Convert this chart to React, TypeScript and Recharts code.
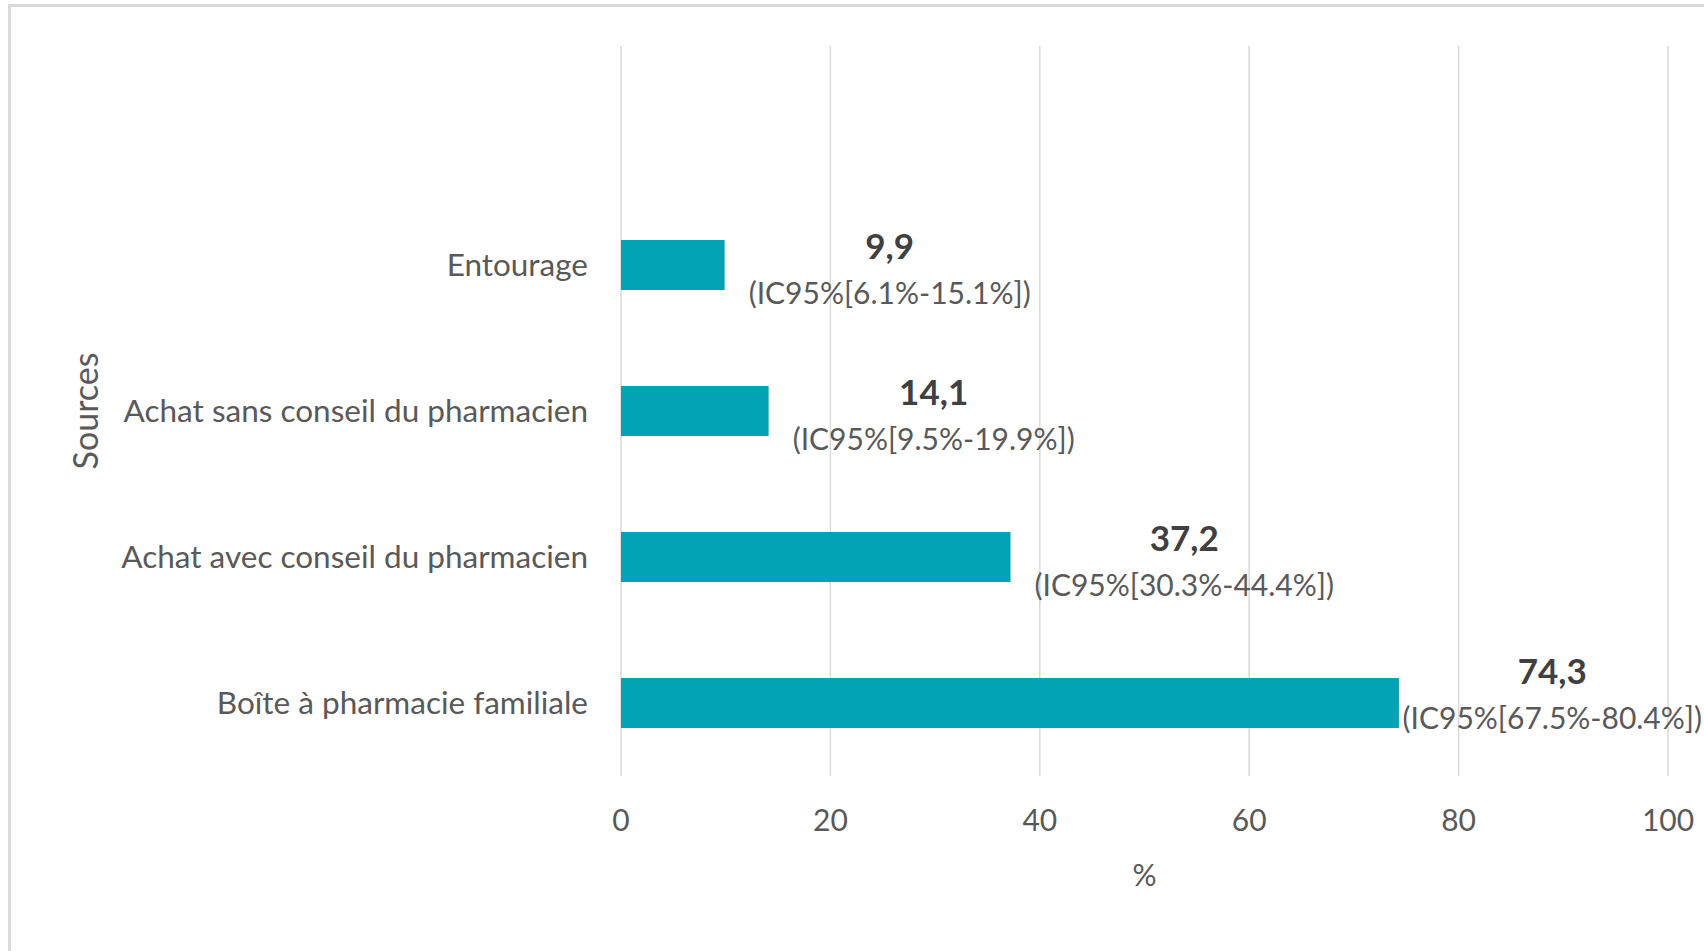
import React from 'react';
import { BarChart, Bar, XAxis, YAxis, CartesianGrid, LabelList } from 'recharts';

// Sources of self-medication products (%), with 95% confidence intervals
const sources = [
    'Entourage',
    'Achat sans conseil du pharmacien',
    'Achat avec conseil du pharmacien',
    'Boîte à pharmacie familiale',
];
const percentValues = [9.9, 14.1, 37.2, 74.3];
const ciLabels = [
    '(IC95%[6.1%-15.1%])',
    '(IC95%[9.5%-19.9%])',
    '(IC95%[30.3%-44.4%])',
    '(IC95%[67.5%-80.4%])',
];
const xTicks = [0, 20, 40, 60, 80, 100];

const data = sources.map((name, i) => ({
    name,
    value: percentValues[i],
    ci: ciLabels[i],
}));

const FONT = 'Lato, "Open Sans", sans-serif';
const BAR_COLOR = '#01a3b5';
const GRID_COLOR = '#d9d9d9';
const CHART_W = 1704;
const CI_SIZE = 30;

let measureCtx: CanvasRenderingContext2D | null = null;
const textWidth = (str: string, font: string) => {
    if (!measureCtx) measureCtx = document.createElement('canvas').getContext('2d');
    if (!measureCtx) return str.length * 15;
    measureCtx.font = font;
    return measureCtx.measureText(str).width;
};

const XTick = ({ x, y, payload }: any) => (
    <text x={x} y={y + 55} textAnchor="middle" fill="#595959" fontFamily={FONT} fontSize={30}>
        {payload.value}
    </text>
);

const YTick = ({ x, y, payload }: any) => (
    <text x={x - 33} y={y + 11} textAnchor="end" fill="#595959" fontFamily={FONT} fontSize={31.5}>
        {payload.value}
    </text>
);

const ValueLabel = ({ x, y, width, height, index }: any) => {
    const row = data[index];
    const w = textWidth(row.ci, `${CI_SIZE}px Lato`);
    let left = x + width + 24;
    let cy = y + height / 2;
    // like Excel, a label that would run off the chart is pulled back in and nudged up
    if (left + w > CHART_W - 2) {
        left = CHART_W - 2 - w;
        cy -= 13;
    }
    const mid = left + w / 2;
    return (
        <g>
            <text x={mid} y={cy - 6} textAnchor="middle" fill="#404040" fontFamily={FONT} fontSize={35} fontWeight="bold">
                {row.value.toFixed(1).replace('.', ',')}
            </text>
            <text x={left} y={cy + 39} textAnchor="start" fill="#595959" fontFamily={FONT} fontSize={CI_SIZE}>
                {row.ci}
            </text>
        </g>
    );
};

const SourcesTitle = ({ viewBox }: any) => {
    const bx = viewBox.x + 98;
    const by = viewBox.y + viewBox.height / 2;
    return (
        <text x={bx} y={by} transform={`rotate(-90, ${bx}, ${by})`} textAnchor="middle" fill="#595959" fontFamily={FONT} fontSize={34}>
            Sources
        </text>
    );
};

const PercentTitle = ({ viewBox }: any) => (
    <text x={viewBox.x + viewBox.width / 2} y={viewBox.y + 110} textAnchor="middle" fill="#595959" fontFamily={FONT} fontSize={30}>
        %
    </text>
);

export default function App() {
    return (
        <div style={{ position: 'absolute', left: 0, top: 0, width: CHART_W, height: 951, overflow: 'hidden', background: '#fff' }}>
            <div
                style={{
                    position: 'absolute', left: 8, top: 4, width: 1700, height: 950,
                    borderTop: `3px solid ${GRID_COLOR}`, borderLeft: `3px solid ${GRID_COLOR}`,
                }}
            />
            <div style={{ position: 'absolute', left: 0, top: 0 }}>
                <BarChart
                    width={CHART_W}
                    height={951}
                    data={data}
                    layout="vertical"
                    margin={{ top: 46, right: 36, bottom: 0, left: 0 }}
                >
                    <CartesianGrid horizontal={false} stroke={GRID_COLOR} strokeWidth={1.5} />
                    <XAxis
                        type="number"
                        domain={[0, 100]}
                        ticks={xTicks}
                        axisLine={false}
                        tickLine={false}
                        tickSize={0}
                        tickMargin={0}
                        tick={<XTick />}
                        height={175}
                        label={PercentTitle}
                    />
                    <YAxis
                        type="category"
                        dataKey="name"
                        width={621}
                        padding={{ top: 146, bottom: 0 }}
                        axisLine={false}
                        tickLine={false}
                        tickSize={0}
                        tickMargin={0}
                        tick={<YTick />}
                        interval={0}
                        label={SourcesTitle}
                    />
                    <Bar dataKey="value" fill={BAR_COLOR} barSize={50} isAnimationActive={false}>
                        <LabelList dataKey="value" content={ValueLabel} />
                    </Bar>
                </BarChart>
            </div>
        </div>
    );
}
